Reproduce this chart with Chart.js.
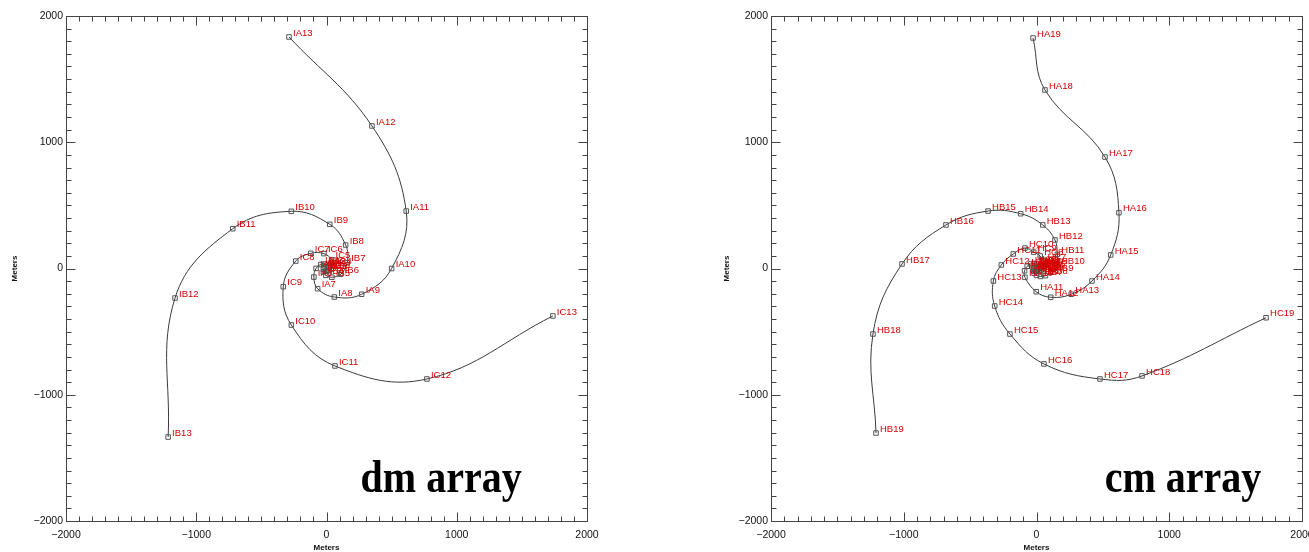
<!DOCTYPE html>
<html>
<head>
<meta charset="utf-8">
<script src="https://cdn.jsdelivr.net/npm/chart.js@4.4.1/dist/chart.umd.min.js"></script>
<style>
  html, body { margin: 0; padding: 0; background: #fff; }
  body { width: 1309px; height: 552px; overflow: hidden; position: relative; }
  .panel { position: absolute; top: 0; height: 552px; }
  #dmBox { left: 0; width: 620px; }
  #cmBox { left: 712px; width: 628px; }
</style>
</head>
<body>
<div class="panel" id="dmBox"><canvas id="dmChart" width="620" height="552"></canvas></div>
<div class="panel" id="cmBox"><canvas id="cmChart" width="628" height="552"></canvas></div>
<script>
// Antenna positions in meters, innermost first.
// dm array: arms IA, IB, IC (13 stations each)
const dmIA = [[14,10],[8,24],[-11,35],[-43,32],[-80,1],[-97,-68],[-68,-160],[60,-226],[270,-204],[500,0],[612,455],[349,1129],[-288,1834]];
const dmIB = [[-16,7],[-24,-6],[-24,-28],[-5,-54],[41,-69],[109,-46],[159,45],[147,186],[25,350],[-270,453],[-720,315],[-1163,-234],[-1216,-1335]];
const dmIC = [[2,-17],[17,-18],[36,-7],[49,23],[39,70],[-20,118],[-121,120],[-236,59],[-332,-144],[-270,-448],[65,-772],[771,-875],[1738,-376]];

// cm array: arms HA, HB, HC (19 stations each)
const cmHA = [[12,-2],[15,5],[16,14],[11,25],[0,35],[-19,40],[-44,36],[-70,18],[-90,-18],[-87,-70],[-2,-184],[107,-228],[262,-204],[418,-99],[559,107],[621,442],[516,883],[64,1414],[-26,1826]];
const cmHB = [[-12,9],[-20,3],[-25,-7],[-25,-21],[-18,-38],[0,-54],[29,-63],[67,-57],[109,-29],[154,28],[157,112],[139,226],[47,345],[-119,434],[-365,455],[-682,345],[-1013,36],[-1232,-519],[-1209,-1303]];
const cmHC = [[-3,-17],[5,-21],[18,-23],[33,-16],[48,-1],[57,25],[52,60],[28,99],[-21,130],[-87,162],[-175,115],[-265,28],[-325,-99],[-315,-297],[-200,-519],[56,-756],[478,-875],[795,-851],[1729,-390]];

const axisTicks = [-2000, -1000, 0, 1000, 2000];
const axisMin = -2000, axisMax = 2000;

function arm(prefix, pts) {
  return {
    data: pts.map(p => ({ x: p[0], y: p[1] })),
    names: pts.map((p, i) => prefix + (i + 1)),
    showLine: true,
    tension: 0.4,
    borderColor: '#3a3a3a',
    borderWidth: 1,
    pointStyle: 'rect',
    pointRadius: 3.2,
    pointBorderWidth: 1,
    pointBorderColor: '#555',
    pointBackgroundColor: 'rgba(255,255,255,0)'
  };
}

// box frame with inward ticks on all four sides
const frameTicks = {
  id: 'frameTicks',
  beforeDatasetsDraw(chart) {
    const { ctx, chartArea: a, scales: { x, y } } = chart;
    ctx.save();
    ctx.strokeStyle = '#444';
    ctx.lineWidth = 1;
    const L = Math.round(a.left) + 0.5, R = Math.round(a.right) + 0.5;
    const T = Math.round(a.top) + 0.5, B = Math.round(a.bottom) + 0.5;
    ctx.strokeRect(L, T, R - L, B - T);
    ctx.beginPath();
    for (let v = axisMin; v <= axisMax; v += 100) {
      const len = v % 1000 === 0 ? 9 : 5;
      const px = Math.round(x.getPixelForValue(v)) + 0.5;
      ctx.moveTo(px, B); ctx.lineTo(px, B - len);
      ctx.moveTo(px, T); ctx.lineTo(px, T + len);
      const py = Math.round(y.getPixelForValue(v)) + 0.5;
      ctx.moveTo(L, py); ctx.lineTo(L + len, py);
      ctx.moveTo(R, py); ctx.lineTo(R - len, py);
    }
    ctx.stroke();
    ctx.restore();
  }
};

// red station names next to each marker
const stationNames = {
  id: 'stationNames',
  afterDatasetsDraw(chart) {
    const ctx = chart.ctx;
    ctx.save();
    ctx.font = '9.5px "Liberation Sans", Arial, sans-serif';
    ctx.fillStyle = '#d40000';
    ctx.textBaseline = 'middle';
    chart.data.datasets.forEach((ds, i) => {
      chart.getDatasetMeta(i).data.forEach((pt, j) => {
        ctx.fillText(ds.names[j], pt.x + 4, pt.y - 4);
      });
    });
    ctx.restore();
  }
};

// big "dm array" / "cm array" caption (a bit taller than wide, like the scan)
const caption = {
  id: 'caption',
  afterDraw(chart, args, opts) {
    const { ctx, scales: { x, y } } = chart;
    ctx.save();
    ctx.translate(x.getPixelForValue(opts.x), y.getPixelForValue(opts.y));
    ctx.scale(1, 1.15);
    ctx.font = 'bold 40px "Liberation Serif", "Times New Roman", serif';
    ctx.fillStyle = '#000';
    ctx.textAlign = 'center';
    ctx.textBaseline = 'alphabetic';
    ctx.fillText(opts.text, 0, 0);
    ctx.restore();
  }
};

function makeChart(id, arms, yWidth, padRight, cap) {
  const tickFont = { family: '"Liberation Sans", Arial, sans-serif', size: 10.5 };
  const titleFont = { family: '"Liberation Sans", Arial, sans-serif', size: 8, weight: 'bold' };
  return new Chart(document.getElementById(id), {
    type: 'scatter',
    data: { datasets: arms },
    options: {
      responsive: false,
      animation: false,
      layout: { padding: { top: 16, right: padRight, left: 0, bottom: 0 } },
      plugins: {
        legend: { display: false },
        tooltip: { enabled: false },
        caption: cap
      },
      scales: {
        x: {
          type: 'linear', min: axisMin, max: axisMax,
          grid: { display: false, drawTicks: false },
          border: { display: false },
          afterBuildTicks: s => { s.ticks = axisTicks.map(v => ({ value: v })); },
          afterFit: s => { s.height = 31; },
          ticks: { font: tickFont, color: '#111', padding: 8, maxRotation: 0, autoSkip: false,
                   callback: v => String(v).replace('-', '\u2212') },
          title: { display: true, text: 'Meters', font: titleFont, color: '#111', padding: { top: 0, bottom: -1 } }
        },
        y: {
          type: 'linear', min: axisMin, max: axisMax,
          grid: { display: false, drawTicks: false },
          border: { display: false },
          afterBuildTicks: s => { s.ticks = axisTicks.map(v => ({ value: v })); },
          afterFit: s => { s.width = yWidth; },
          ticks: { font: tickFont, color: '#111', padding: 3, autoSkip: false,
                   callback: v => String(v).replace('-', '\u2212') },
          title: { display: true, text: 'Meters', font: titleFont, color: '#111', padding: { top: 10, bottom: 0 } }
        }
      }
    },
    plugins: [frameTicks, stationNames, caption]
  });
}

makeChart('dmChart', [arm('IA', dmIA), arm('IB', dmIB), arm('IC', dmIC)], 66, 33,
  { text: 'dm array', x: 880, y: -1770 });
makeChart('cmChart', [arm('HA', cmHA), arm('HB', cmHB), arm('HC', cmHC)], 59, 38,
  { text: 'cm array', x: 1104, y: -1770 });
</script>
</body>
</html>
